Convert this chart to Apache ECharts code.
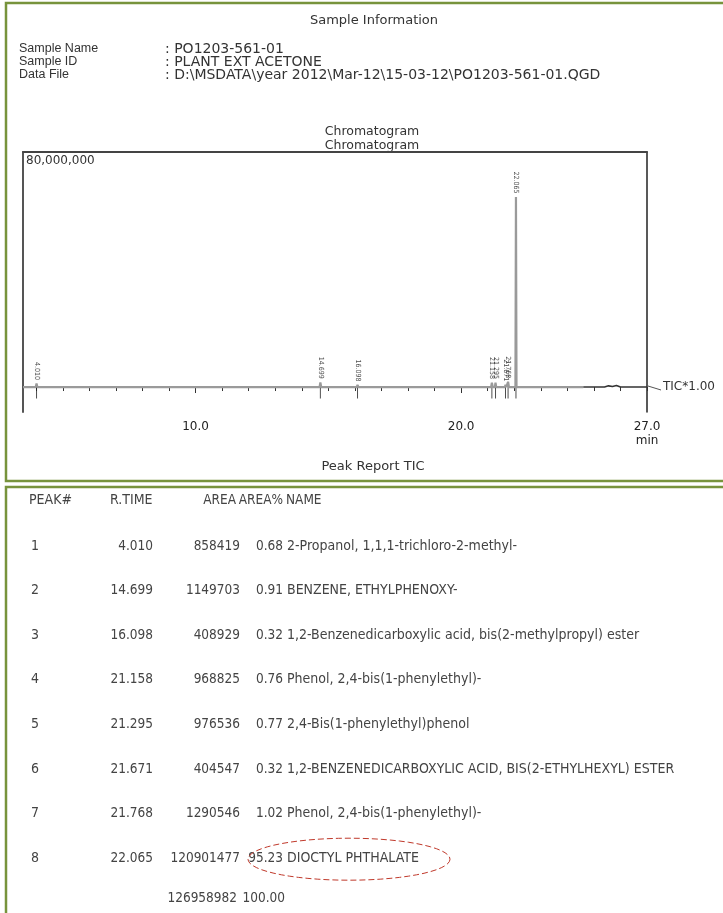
<!DOCTYPE html>
<html>
<head>
<meta charset="utf-8">
<title>Sample Information - Chromatogram</title>
<script src="https://cdn.jsdelivr.net/npm/echarts@6/dist/echarts.min.js"></script>
<style>
html, body { margin: 0; padding: 0; background: #fff; }
#main { width: 723px; height: 913px; }
</style>
</head>
<body>
<div id="main"></div>
<script>
// peak table
var peakTimes = [4.010, 14.699, 16.098, 21.158, 21.295, 21.671, 21.768, 22.065];
var peakHeights = [1.2e6, 1.6e6, 0.7e6, 1.5e6, 1.5e6, 0.8e6, 1.8e6, 64.7e6];
var peakAreas = [858419, 1149703, 408929, 968825, 976536, 404547, 1290546, 120901477];
var areaPercents = ['0.68', '0.91', '0.32', '0.76', '0.77', '0.32', '1.02', '95.23'];
var peakNames = [
    '2-Propanol, 1,1,1-trichloro-2-methyl-',
    'BENZENE, ETHYLPHENOXY-',
    '1,2-Benzenedicarboxylic acid, bis(2-methylpropyl) ester',
    'Phenol, 2,4-bis(1-phenylethyl)-',
    '2,4-Bis(1-phenylethyl)phenol',
    '1,2-BENZENEDICARBOXYLIC ACID, BIS(2-ETHYLHEXYL) ESTER',
    'Phenol, 2,4-bis(1-phenylethyl)-',
    'DIOCTYL PHTHALATE'
];
var totalArea = 126958982;
var totalPercent = '100.00';

// TIC trace [min, intensity]
var trace = [
    [3.5, 0], [3.98, 0], [4.010, 1.2e6], [4.04, 0],
    [14.67, 0], [14.699, 1.6e6], [14.73, 0],
    [16.07, 0], [16.098, 0.7e6], [16.13, 0],
    [21.13, 0], [21.158, 1.5e6], [21.19, 0],
    [21.27, 0], [21.295, 1.5e6], [21.32, 0],
    [21.65, 0], [21.671, 0.8e6], [21.70, 0],
    [21.74, 0], [21.768, 1.8e6], [21.80, 0],
    [22.045, 0], [22.065, 64.7e6], [22.085, 0],
    [24.6, 0]
];
// late part of the run, drawn darker in the report
var traceTail = [
    [24.6, 0], [25.4, 0], [25.55, 0.4e6], [25.7, 0.2e6], [25.85, 0.5e6], [26.0, 0], [27.0, 0]
];

var tickValues = [4, 5, 6, 7, 8, 9, 10, 11, 12, 13, 14, 15, 16, 17, 18, 19, 20, 21, 22, 23, 24, 25, 26, 27];
var majorTicks = [10, 20];
var labelValues = [10, 20, 27];

var sampleInfo = [
    ['Sample Name', ': PO1203-561-01'],
    ['Sample ID', ': PLANT EXT ACETONE'],
    ['Data File', ': D:\\MSDATA\\year 2012\\Mar-12\\15-03-12\\PO1203-561-01.QGD']
];

var headFont = 'DejaVu Sans, Verdana, sans-serif';
var labelFont = '"Liberation Sans", Arial, sans-serif';
var tableFont = '"DejaVu Sans Condensed", "DejaVu Sans", sans-serif';
var green = '#77933c';

function txt(x, y, text, size, align, family, color) {
    return {
        type: 'text', x: x, y: y, silent: true,
        style: {
            text: text, fill: color || '#333', fontSize: size, fontFamily: family || headFont,
            align: align || 'left', verticalAlign: 'middle'
        }
    };
}

var graphics = [
    { type: 'rect', shape: { x: 6, y: 3, width: 730, height: 478 }, style: { fill: 'none', stroke: green, lineWidth: 2.5 } },
    { type: 'rect', shape: { x: 6, y: 487, width: 730, height: 440 }, style: { fill: 'none', stroke: green, lineWidth: 2.5 } },
    txt(374, 21, 'Sample Information', 13, 'center'),
    txt(372, 132, 'Chromatogram', 12.5, 'center'),
    txt(372, 146, 'Chromatogram', 12.5, 'center'),
    txt(373, 467, 'Peak Report TIC', 13, 'center'),
    { type: 'polyline', shape: { points: [[648, 386], [661, 390]] }, style: { stroke: '#555', lineWidth: 1 } }
];
sampleInfo.forEach(function (row, i) {
    graphics.push(txt(19, 49 + i * 13, row[0], 12.5, 'left', labelFont));
    graphics.push(txt(165, 49 + i * 13, row[1], 14));
});

// peak table
var rowY0 = 546, rowStep = 44.6, tColor = '#444';
graphics.push(txt(29, 500, 'PEAK#', 14, 'left', tableFont, tColor));
graphics.push(txt(110, 500, 'R.TIME', 14, 'left', tableFont, tColor));
graphics.push(txt(236, 500, 'AREA', 13.5, 'right', tableFont, tColor));
graphics.push(txt(283, 500, 'AREA%', 13.5, 'right', tableFont, tColor));
graphics.push(txt(286, 500, 'NAME', 13.5, 'left', tableFont, tColor));
peakTimes.forEach(function (t, i) {
    var y = rowY0 + i * rowStep;
    graphics.push(txt(31, y, String(i + 1), 14, 'left', tableFont, tColor));
    graphics.push(txt(153, y, t.toFixed(3), 13.5, 'right', tableFont, tColor));
    graphics.push(txt(240, y, String(peakAreas[i]), 13.5, 'right', tableFont, tColor));
    graphics.push(txt(283, y, areaPercents[i], 13.5, 'right', tableFont, tColor));
    graphics.push(txt(287, y, peakNames[i], 14, 'left', tableFont, tColor));
});
graphics.push(txt(237, rowY0 + 8 * rowStep - 4, String(totalArea), 13.5, 'right', tableFont, tColor));
graphics.push(txt(285, rowY0 + 8 * rowStep - 4, totalPercent, 13.5, 'right', tableFont, tColor));

// red dashed ellipse round the main compound
var ell = [];
for (var a = 0; a <= 360; a += 6) {
    var r = a * Math.PI / 180;
    ell.push([349 + 101 * Math.cos(r), rowY0 + 7 * rowStep + 1 + 21 * Math.sin(r)]);
}
graphics.push({ type: 'polyline', shape: { points: ell }, style: { stroke: '#c0392b', lineWidth: 1, lineDash: [6, 3], fill: null } });

var myChart = echarts.init(document.getElementById('main'));
myChart.setOption({
    animation: false,
    backgroundColor: '#fff',
    grid: { left: 23, right: 76, top: 152, bottom: 501 },
    xAxis: [{
        type: 'value', min: 3.5, max: 27, position: 'bottom',
        axisLine: { show: false },
        splitLine: { show: false },
        axisTick: { show: true, customValues: tickValues, length: 4, lineStyle: { color: '#333', width: 1 } },
        axisLabel: {
            show: true, customValues: labelValues, margin: 8, color: '#222', fontSize: 12, fontFamily: headFont, lineHeight: 14,
            formatter: function (v) { return v === 27 ? '27.0\nmin' : v.toFixed(1); }
        }
    }, {
        type: 'value', min: 3.5, max: 27, position: 'bottom',
        axisLine: { show: false }, splitLine: { show: false }, axisLabel: { show: false },
        axisTick: { show: true, customValues: majorTicks, length: 6, lineStyle: { color: '#333', width: 1 } }
    }, {
        type: 'value', min: 3.5, max: 27, position: 'top',
        axisLine: { show: true, lineStyle: { color: '#444', width: 2 } },
        splitLine: { show: false }, axisLabel: { show: false }, axisTick: { show: false }
    }],
    yAxis: [{
        type: 'value', min: -8.5e6, max: 80e6, position: 'left',
        axisLine: { show: true, lineStyle: { color: '#555', width: 2 } },
        splitLine: { show: false }, axisTick: { show: false },
        axisLabel: {
            show: true, inside: true, customValues: [80e6], verticalAlign: 'top', margin: 3, padding: [3, 0, 0, 0],
            color: '#333', fontSize: 12, fontFamily: headFont,
            formatter: function (v) { return v.toLocaleString('en-US'); }
        }
    }, {
        type: 'value', min: -8.5e6, max: 80e6, position: 'right',
        axisLine: { show: true, lineStyle: { color: '#222', width: 1.5 } },
        splitLine: { show: false }, axisTick: { show: false }, axisLabel: { show: false }
    }],
    series: [{
        name: 'TIC', type: 'line', data: trace, showSymbol: false, symbol: 'none',
        lineStyle: { width: 2.2, color: '#9a9a9a' }
    }, {
        name: 'TIC tail', type: 'line', data: traceTail, showSymbol: false, symbol: 'none',
        lineStyle: { width: 1.6, color: '#333' },
        endLabel: { show: true, formatter: 'TIC*1.00', distance: 16, color: '#333', fontSize: 12, fontFamily: headFont }
    }, {
        name: 'markers', type: 'scatter', data: peakTimes.map(function (t) { return [t, 0]; }),
        symbol: 'rect', symbolSize: [1, 13], symbolOffset: [0, 5], itemStyle: { color: '#222' }, silent: true
    }, {
        name: 'labels', type: 'scatter', data: peakTimes.map(function (t, i) { return [t, peakHeights[i]]; }),
        symbolSize: 1, itemStyle: { color: 'rgba(0,0,0,0)' }, silent: true,
        label: {
            show: true, position: 'top', distance: 3, rotate: -90, align: 'right', verticalAlign: 'middle',
            fontSize: 7, color: '#222', fontFamily: tableFont,
            formatter: function (p) { return p.value[0].toFixed(3); }
        }
    }],
    graphic: graphics
});
</script>
</body>
</html>
